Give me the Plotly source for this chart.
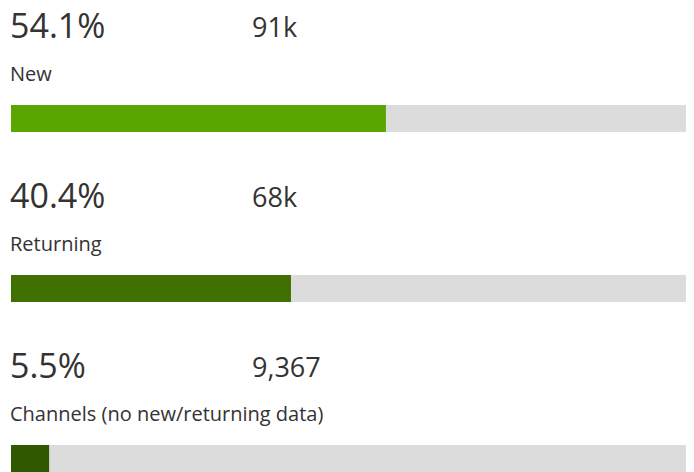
import plotly.graph_objects as go

categories = ["New", "Returning", "Channels (no new/returning data)"]
percents = [54.1, 40.4, 5.5]
counts = ["91k", "68k", "9,367"]
colors = ["#59A600", "#407000", "#305800"]

# page has an 8px body margin; figure coordinates = page coordinates - 8
W, H = 686, 464
L = 3
track_px = 693
plot_w = W - L
xmax = 100 * plot_w / track_px

row_px = 170
first_center = 110.5
top = -first_center / row_px
bottom = top + H / row_px

ys = list(range(len(categories)))

fig = go.Figure()
fig.add_trace(go.Bar(
    y=ys, x=[100] * len(ys), base=0, orientation="h",
    marker=dict(color="#DCDCDC", line=dict(width=0)),
    width=27 / row_px, hoverinfo="skip", showlegend=False,
))
fig.add_trace(go.Bar(
    y=ys, x=percents, base=0, orientation="h",
    marker=dict(color=colors, line=dict(width=0)),
    width=27 / row_px, hoverinfo="skip", showlegend=False,
))

font = "'Open Sans', sans-serif"
txt = "#333333"
for i, (cat, p, c) in enumerate(zip(categories, percents, counts)):
    fig.add_annotation(x=0, xref="paper", y=i - 93.5 / row_px, yref="y",
                       text=f"{p}%", showarrow=False, xanchor="left", yanchor="middle",
                       xshift=-3, font=dict(family=font, size=34, color=txt))
    fig.add_annotation(x=(253 - 11) / plot_w, xref="paper", y=i - 92 / row_px, yref="y",
                       text=c, showarrow=False, xanchor="left", yanchor="middle",
                       xshift=-3, font=dict(family=font, size=27, color=txt))
    fig.add_annotation(x=0, xref="paper", y=i - 45.5 / row_px, yref="y",
                       text=cat, showarrow=False, xanchor="left", yanchor="middle",
                       xshift=-3, font=dict(family=font, size=20, color=txt))

fig.update_layout(
    width=W, height=H,
    margin=dict(l=L, r=0, t=0, b=0),
    paper_bgcolor="white", plot_bgcolor="white",
    barmode="overlay",
    xaxis=dict(range=[0, xmax], visible=False, fixedrange=True),
    yaxis=dict(range=[bottom, top], visible=False, fixedrange=True),
)
fig.write_html("out.html")
